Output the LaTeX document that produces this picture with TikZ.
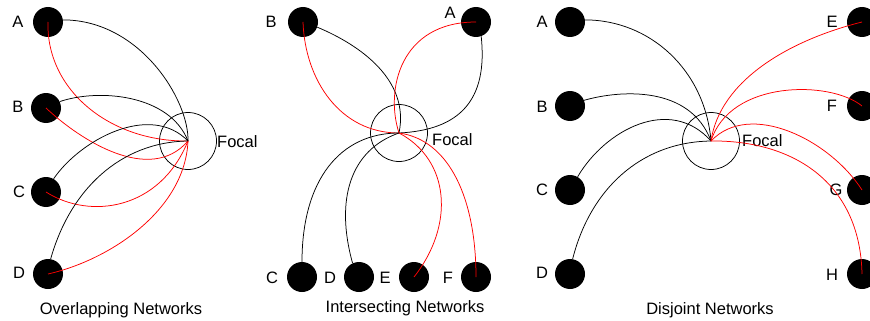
\documentclass[tikz,border=0pt]{standalone}
\usepackage{fontspec}
\setmainfont{Liberation Sans}
\begin{document}
\begin{tikzpicture}[x=1pt,y=-1pt,
  member/.style={circle,fill=black,minimum size=30pt,inner sep=0pt},
  focal/.style={circle,draw=black,line width=0.75pt,minimum size=57pt,inner sep=0pt},
  lab/.style={font=\fontsize{16.5}{18}\selectfont,inner sep=0pt},
  tie/.style={line width=0.75pt,draw=black},
  redtie/.style={line width=0.75pt,draw=red}]
\useasboundingbox (0,0) rectangle (870,321);

% ---------- Overlapping networks ----------
\node[member] (A1) at (48,22) {};
\node[member] (B1) at (46,108) {};
\node[member] (C1) at (46,192) {};
\node[member] (D1) at (48,274) {};
\node[focal] (F1) at (188,141) {};
\node[lab] (lA1) at (18,22) {A};
\node[lab] (lB1) at (18,107) {B};
\node[lab] (lC1) at (19,192) {C};
\node[lab] (lD1) at (19,273) {D};
\node[lab,anchor=west] (lF1) at (217,142) {Focal};
\node[lab] (t1) at (121,310) {Overlapping Networks};

\draw[tie] (A1.8) .. controls (140,20) and (189,100) .. (F1.center);
\draw[redtie] (A1.center) .. controls (46,90) and (110,142) .. (F1.center);
\draw[tie] (B1.25) .. controls (100,88) and (170,95) .. (F1.center);
\draw[redtie] (B1.center) .. controls (80,140) and (150,185) .. (F1.center);
\draw[tie] (C1.60) .. controls (80,140) and (150,102) .. (F1.center);
\draw[redtie] (C1.center) .. controls (90,220) and (160,210) .. (F1.center);
\draw[tie] (D1.80) .. controls (70,190) and (120,142) .. (F1.center);
\draw[redtie] (D1.center) .. controls (110,260) and (185,210) .. (F1.center);

% ---------- Intersecting networks ----------
\node[member] (B2) at (303,22) {};
\node[member] (A2) at (476,22) {};
\node[member] (C2) at (302,277) {};
\node[member] (D2) at (359,277) {};
\node[member] (E2) at (414,277) {};
\node[member] (G2) at (476,277) {};
\node[focal] (F2) at (399,133) {};
\node[lab] (lB2) at (271,22) {B};
\node[lab] (lA2) at (450,13) {A};
\node[lab] (lC2) at (272,278) {C};
\node[lab] (lD2) at (330,278) {D};
\node[lab] (lE2) at (385,278) {E};
\node[lab] (lG2) at (448,278) {F};
\node[lab,anchor=west] (lF2) at (432,140) {Focal};
\node[lab] (t2) at (405,308) {Intersecting Networks};

\draw[tie] (B2.-20) .. controls (360,45) and (410,80) .. (F2.center);
\draw[redtie] (B2.center) .. controls (305,80) and (340,133) .. (F2.center);
\draw[redtie] (A2.center) .. controls (400,22) and (385,90) .. (F2.center);
\draw[tie] (A2.-70) .. controls (488,100) and (460,130) .. (F2.center);
\draw[tie] (C2.north) .. controls (302,180) and (340,133) .. (F2.center);
\draw[tie] (D2.115) .. controls (335,200) and (350,150) .. (F2.center);
\draw[redtie] (E2.center) .. controls (455,225) and (450,160) .. (F2.center);
\draw[redtie] (G2.center) .. controls (476,200) and (450,140) .. (F2.center);

% ---------- Disjoint networks ----------
\node[member] (A3) at (570,22) {};
\node[member] (B3) at (570,106) {};
\node[member] (C3) at (570,190) {};
\node[member] (D3) at (570,274) {};
\node[member] (E3) at (862,22) {};
\node[member] (G3f) at (862,106) {};
\node[member] (G3) at (862,190) {};
\node[member] (H3) at (862,274) {};
\node[focal] (F3) at (711,141) {};
\node[lab] (lA3) at (542,22) {A};
\node[lab] (lB3) at (542,107) {B};
\node[lab] (lC3) at (542,190) {C};
\node[lab] (lD3) at (542,273) {D};
\node[lab] (lE3) at (832,22) {E};
\node[lab] (lG3f) at (832,106) {F};
\node[lab] (lG3) at (836,190) {G};
\node[lab] (lH3) at (832,275) {H};
\node[lab,anchor=west] (lF3) at (742,141) {Focal};
\node[lab] (t3) at (710,310) {Disjoint Networks};

\draw[tie] (A3.8) .. controls (650,20) and (705,70) .. (F3.center);
\draw[tie] (B3.22) .. controls (620,90) and (690,85) .. (F3.center);
\draw[tie] (C3.60) .. controls (605,130) and (670,95) .. (F3.center);
\draw[tie] (D3.80) .. controls (590,190) and (640,142) .. (F3.center);
\draw[redtie] (E3.center) .. controls (790,40) and (720,80) .. (F3.center);
\draw[redtie] (G3f.center) .. controls (830,80) and (730,80) .. (F3.center);
\draw[redtie] (G3.center) .. controls (830,140) and (750,100) .. (F3.center);
\draw[redtie] (H3.center) .. controls (860,180) and (790,140) .. (F3.center);
\end{tikzpicture}
\end{document}
